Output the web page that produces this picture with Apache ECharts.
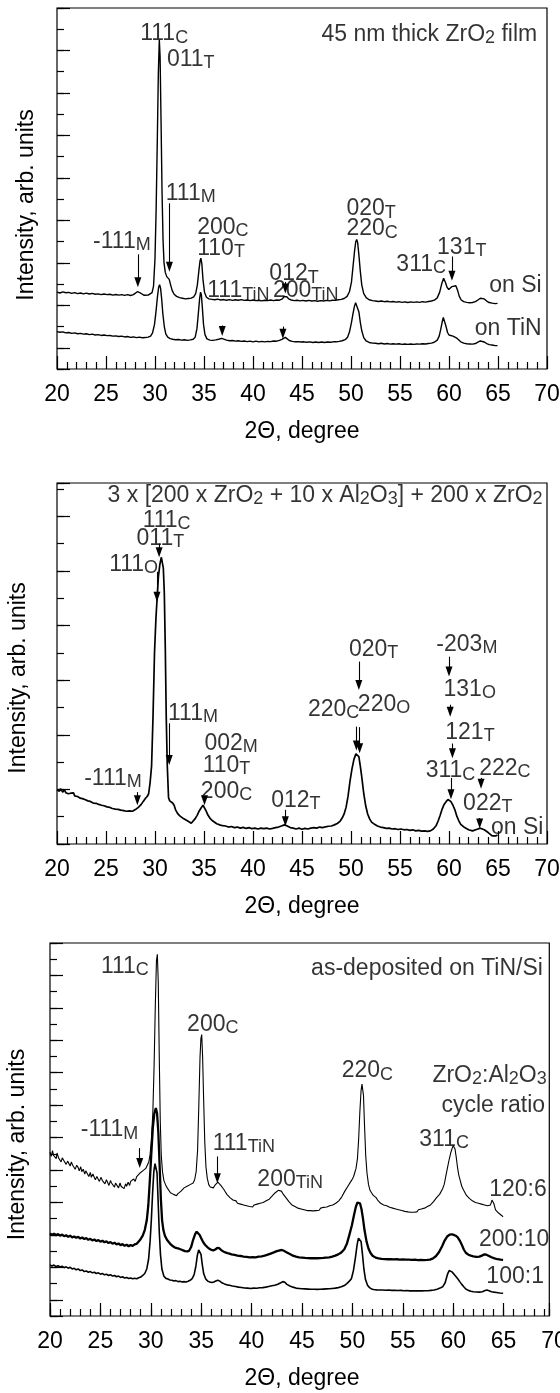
<!DOCTYPE html>
<html>

<head>
    <meta charset="utf-8">
    <title>ZrO2 XRD</title>
    <script src="https://cdn.jsdelivr.net/npm/echarts@6.0.0/dist/echarts.min.js"></script>
    <style>
        body { margin: 0; background: #fff; }
    </style>
</head>

<body>
    <div id="main" style="width: 560px;height:1393px;"></div>
    <script type="text/javascript">
        // ---- data: [2theta (deg), intensity (arb. tick units)] ----

        // panel 1: 45 nm ZrO2, on Si and on TiN
        var p1OnSi = [
            [20.0,3.62],[20.3,3.58],[20.6,3.63],[20.9,3.59],[21.2,3.61],[21.5,3.56],[21.8,3.6],[22.1,3.55],[22.4,3.58],[22.7,3.54],
            [23.0,3.57],[23.3,3.53],[23.6,3.56],[23.9,3.52],[24.2,3.54],[24.5,3.5],[24.8,3.53],[25.1,3.5],[25.4,3.52],[25.7,3.48],
            [26.0,3.51],[26.3,3.48],[26.6,3.5],[26.9,3.47],[27.2,3.5],[27.5,3.46],[27.8,3.5],[28.0,3.55],[28.2,3.64],[28.35,3.66],
            [28.5,3.58],[28.7,3.5],[28.9,3.47],[29.1,3.46],[29.3,3.48],[29.5,3.52],[29.7,3.6],[29.85,3.9],[30.0,5.2],[30.12,7.6],
            [30.24,10.9],[30.34,13.9],[30.44,15.5],[30.52,14.7],[30.62,11.6],[30.72,8.3],[30.82,6.1],[30.92,5.0],[31.05,4.55],[31.2,4.35],
            [31.35,4.3],[31.45,4.22],[31.6,3.95],[31.75,3.7],[31.95,3.52],[32.2,3.42],[32.5,3.36],[32.8,3.33],[33.1,3.3],[33.4,3.32],
            [33.7,3.34],[33.95,3.4],[34.15,3.55],[34.32,3.95],[34.47,4.6],[34.6,5.1],[34.68,5.22],[34.78,4.95],[34.9,4.2],[35.05,3.62],
            [35.25,3.38],[35.5,3.3],[35.8,3.28],[36.1,3.26],[36.4,3.29],[36.7,3.25],[37.0,3.27],[37.3,3.24],[37.6,3.27],[37.9,3.23],
            [38.2,3.26],[38.5,3.24],[38.8,3.27],[39.1,3.23],[39.4,3.25],[39.7,3.22],[40.0,3.25],[40.3,3.22],[40.6,3.24],[40.9,3.21],
            [41.2,3.24],[41.5,3.22],[41.8,3.25],[42.1,3.22],[42.4,3.25],[42.7,3.24],[43.0,3.3],[43.15,3.4],[43.3,3.48],[43.45,3.4],
            [43.65,3.3],[43.9,3.25],[44.2,3.22],[44.5,3.24],[44.8,3.21],[45.1,3.23],[45.4,3.2],[45.7,3.23],[46.0,3.2],[46.3,3.22],
            [46.6,3.19],[46.9,3.22],[47.2,3.2],[47.5,3.23],[47.8,3.21],[48.1,3.24],[48.4,3.23],[48.7,3.26],[49.0,3.28],[49.3,3.32],
            [49.6,3.42],[49.85,3.65],[50.05,4.1],[50.2,4.8],[50.35,5.5],[50.48,5.98],[50.58,6.1],[50.68,5.95],[50.8,5.4],[50.95,4.6],
            [51.1,3.95],[51.3,3.55],[51.55,3.36],[51.85,3.26],[52.2,3.22],[52.5,3.2],[52.8,3.18],[53.1,3.2],[53.4,3.17],[53.7,3.19],
            [54.0,3.16],[54.3,3.18],[54.6,3.15],[54.9,3.17],[55.2,3.14],[55.5,3.16],[55.8,3.13],[56.1,3.16],[56.4,3.14],[56.7,3.16],
            [57.0,3.14],[57.3,3.17],[57.6,3.15],[57.9,3.18],[58.2,3.2],[58.5,3.24],[58.8,3.35],[59.05,3.62],[59.25,4.0],[59.45,4.27],
            [59.62,4.1],[59.8,3.85],[59.98,3.74],[60.12,3.76],[60.3,3.88],[60.5,3.96],[60.7,3.92],[60.88,3.7],[61.05,3.42],[61.25,3.25],
            [61.5,3.17],[61.8,3.14],[62.1,3.12],[62.4,3.13],[62.7,3.17],[62.95,3.25],[63.2,3.33],[63.4,3.36],[63.6,3.3],[63.85,3.2],
            [64.1,3.13],[64.4,3.1],[64.7,3.08],[64.95,3.09]
        ];
        var p1OnTiN = [
            [20.0,1.76],[20.3,1.73],[20.6,1.75],[20.9,1.7],[21.2,1.72],[21.5,1.68],[21.8,1.7],[22.1,1.66],[22.4,1.68],[22.7,1.64],
            [23.0,1.66],[23.3,1.62],[23.6,1.64],[23.9,1.6],[24.2,1.62],[24.5,1.58],[24.8,1.6],[25.1,1.57],[25.4,1.58],[25.7,1.55],
            [26.0,1.56],[26.3,1.53],[26.6,1.55],[26.9,1.51],[27.2,1.53],[27.5,1.49],[27.8,1.51],[28.1,1.48],[28.4,1.5],[28.7,1.47],
            [29.0,1.48],[29.3,1.5],[29.55,1.55],[29.75,1.7],[29.95,2.1],[30.1,2.7],[30.25,3.4],[30.37,3.85],[30.47,3.97],[30.57,3.8],
            [30.68,3.3],[30.8,2.6],[30.95,2.0],[31.1,1.65],[31.3,1.5],[31.55,1.43],[31.8,1.4],[32.1,1.38],[32.4,1.39],[32.7,1.36],
            [33.0,1.38],[33.3,1.35],[33.6,1.37],[33.9,1.4],[34.1,1.5],[34.28,1.9],[34.42,2.6],[34.55,3.3],[34.65,3.62],[34.73,3.5],
            [34.83,2.9],[34.95,2.1],[35.1,1.62],[35.3,1.42],[35.6,1.36],[35.9,1.35],[36.2,1.37],[36.5,1.4],[36.8,1.44],[37.0,1.42],
            [37.3,1.36],[37.6,1.33],[37.9,1.34],[38.2,1.31],[38.5,1.33],[38.8,1.3],[39.1,1.32],[39.4,1.29],[39.7,1.31],[40.0,1.28],
            [40.3,1.31],[40.6,1.28],[40.9,1.3],[41.2,1.28],[41.5,1.3],[41.8,1.29],[42.1,1.32],[42.4,1.31],[42.7,1.35],[42.95,1.4],
            [43.15,1.46],[43.3,1.49],[43.45,1.42],[43.7,1.34],[44.0,1.3],[44.3,1.28],[44.6,1.29],[44.9,1.27],[45.2,1.28],[45.5,1.26],
            [45.8,1.28],[46.1,1.25],[46.4,1.27],[46.7,1.25],[47.0,1.27],[47.3,1.25],[47.6,1.27],[47.9,1.26],[48.2,1.28],[48.5,1.28],
            [48.8,1.3],[49.1,1.33],[49.4,1.38],[49.65,1.5],[49.85,1.75],[50.05,2.2],[50.2,2.6],[50.35,2.95],[50.47,3.12],[50.57,3.17],
            [50.67,3.05],[50.8,2.7],[50.95,2.2],[51.1,1.8],[51.3,1.48],[51.55,1.32],[51.85,1.25],[52.2,1.22],[52.5,1.21],[52.8,1.19],
            [53.1,1.21],[53.4,1.18],[53.7,1.2],[54.0,1.17],[54.3,1.19],[54.6,1.17],[54.9,1.19],[55.2,1.16],[55.5,1.18],[55.8,1.16],
            [56.1,1.18],[56.4,1.16],[56.7,1.18],[57.0,1.17],[57.3,1.19],[57.6,1.18],[57.9,1.2],[58.2,1.22],[58.5,1.26],[58.8,1.36],
            [59.0,1.55],[59.15,1.85],[59.3,2.2],[59.42,2.43],[59.55,2.35],[59.7,2.0],[59.85,1.72],[60.0,1.6],[60.2,1.56],[60.4,1.55],
            [60.6,1.52],[60.8,1.45],[61.0,1.36],[61.2,1.28],[61.5,1.22],[61.8,1.19],[62.1,1.18],[62.4,1.17],[62.7,1.2],[62.95,1.26],
            [63.2,1.32],[63.4,1.33],[63.6,1.27],[63.85,1.2],[64.1,1.15],[64.4,1.13],[64.7,1.1],[64.95,1.1]
        ];

        // panel 2: 3 x [200 x ZrO2 + 10 x Al2O3] + 200 x ZrO2 on Si
        var p2OnSi = [
            [20.0,1.98],[20.1,2.05],[20.25,1.93],[20.35,2.02],[20.5,1.96],[20.6,1.9],[20.75,1.99],[20.9,1.88],[21.0,1.95],[21.15,1.84],
            [21.3,1.9],[21.4,1.86],[21.55,1.8],[21.7,1.87],[21.8,1.76],[21.95,1.8],[22.1,1.74],[22.2,1.78],[22.35,1.68],[22.5,1.73],
            [22.6,1.66],[22.75,1.69],[22.9,1.62],[23.0,1.67],[23.15,1.58],[23.3,1.63],[23.4,1.56],[23.55,1.6],[23.7,1.5],[23.85,1.56],
            [24.0,1.49],[24.1,1.53],[24.25,1.45],[24.4,1.5],[24.55,1.42],[24.7,1.46],[24.8,1.4],[24.95,1.44],[25.1,1.36],[25.25,1.41],
            [25.4,1.34],[25.5,1.38],[25.65,1.3],[25.8,1.35],[25.95,1.28],[26.1,1.32],[26.25,1.27],[26.4,1.3],[26.5,1.24],[26.65,1.29],
            [26.8,1.22],[26.95,1.27],[27.1,1.2],[27.25,1.26],[27.4,1.21],[27.55,1.25],[27.7,1.2],[27.85,1.27],[28.0,1.26],[28.15,1.33],
            [28.3,1.34],[28.45,1.4],[28.6,1.45],[28.8,1.56],[29.0,1.66],[29.2,1.74],[29.35,1.84],[29.5,2.25],[29.65,2.85],
            [29.8,4.7],[29.95,7.0],[30.1,8.3],[30.2,8.9],[30.35,9.8],[30.5,10.25],[30.65,10.5],[30.75,10.52],[30.85,10.1],[30.95,9.2],
            [31.05,7.2],[31.15,4.6],[31.25,2.9],[31.38,1.7],[31.5,1.58],[31.65,1.55],[31.8,1.5],[31.95,1.42],[32.1,1.25],[32.3,1.12],
            [32.5,1.04],[32.7,0.99],[32.9,0.93],[33.1,0.9],[33.3,0.85],[33.5,0.8],[33.7,0.76],[33.9,0.82],[34.1,0.93],[34.3,1.05],
            [34.5,1.2],[34.7,1.32],[34.9,1.42],[35.05,1.4],[35.2,1.22],[35.4,1.06],[35.6,0.95],[35.8,0.87],[36.0,0.8],[36.3,0.74],
            [36.6,0.7],[36.9,0.67],[37.2,0.66],[37.5,0.62],[37.8,0.64],[38.1,0.6],[38.4,0.62],[38.7,0.58],[39.0,0.61],[39.3,0.57],
            [39.6,0.6],[39.9,0.56],[40.2,0.58],[40.5,0.55],[40.8,0.58],[41.1,0.56],[41.4,0.58],[41.7,0.55],[42.0,0.57],[42.3,0.6],
            [42.6,0.62],[42.9,0.66],[43.2,0.7],[43.5,0.66],[43.8,0.6],[44.1,0.58],[44.4,0.55],[44.7,0.58],[45.0,0.54],[45.3,0.57],
            [45.6,0.55],[45.9,0.58],[46.2,0.6],[46.5,0.58],[46.8,0.62],[47.1,0.6],[47.4,0.63],[47.7,0.65],[48.0,0.66],[48.3,0.7],
            [48.6,0.75],[48.9,0.84],[49.1,0.95],[49.3,1.1],[49.5,1.35],[49.7,1.75],[49.9,2.3],[50.1,2.75],[50.3,3.1],[50.5,3.3],
            [50.65,3.32],[50.8,3.2],[50.95,2.85],[51.1,2.45],[51.3,1.85],[51.5,1.4],[51.7,1.1],[51.9,0.92],[52.1,0.8],[52.4,0.72],
            [52.7,0.66],[53.0,0.62],[53.3,0.6],[53.6,0.57],[53.9,0.58],[54.2,0.55],[54.5,0.56],[54.8,0.53],[55.1,0.55],[55.4,0.52],
            [55.7,0.53],[56.0,0.5],[56.3,0.52],[56.6,0.48],[56.9,0.5],[57.2,0.47],[57.5,0.48],[57.8,0.46],[58.1,0.48],[58.4,0.55],
            [58.7,0.68],[58.9,0.85],[59.1,1.05],[59.3,1.28],[59.5,1.45],[59.7,1.55],[59.9,1.63],[60.05,1.62],[60.2,1.55],[60.4,1.42],
            [60.6,1.25],[60.8,1.02],[61.0,0.85],[61.2,0.72],[61.4,0.65],[61.6,0.6],[61.8,0.55],[62.0,0.52],[62.2,0.5],[62.4,0.48],
            [62.6,0.5],[62.8,0.53],[63.0,0.56],[63.2,0.58],[63.4,0.55],[63.6,0.52],[63.8,0.48],[64.0,0.42],[64.2,0.36],[64.4,0.3],
            [64.6,0.28],[64.8,0.3],[64.95,0.33]
        ];

        // panel 3: as-deposited on TiN/Si, ZrO2:Al2O3 cycle ratios
        var p3Ratio120 = [
            [20.0,10.1],[20.12,9.85],[20.25,10.2],[20.35,9.9],[20.5,9.95],[20.62,9.7],[20.7,10.05],[20.85,9.75],[21.0,9.8],[21.1,9.5],
            [21.22,9.75],[21.35,9.6],[21.5,9.72],[21.6,9.35],[21.75,9.55],[21.85,9.5],[22.0,9.25],[22.12,9.5],[22.25,9.3],[22.4,9.35],
            [22.5,9.05],[22.65,9.3],[22.8,9.15],[22.9,8.95],[23.05,9.2],[23.15,8.9],[23.3,9.05],[23.45,8.75],[23.55,8.95],[23.7,8.9],
            [23.85,8.6],[24.0,8.85],[24.1,8.55],[24.25,8.75],[24.4,8.7],[24.5,8.4],[24.65,8.6],[24.8,8.5],[24.9,8.3],[25.05,8.55],
            [25.2,8.35],[25.3,8.45],[25.45,8.15],[25.6,8.4],[25.72,8.3],[25.85,8.05],[26.0,8.35],[26.1,8.2],[26.25,8.25],[26.4,7.95],
            [26.5,8.2],[26.65,8.1],[26.8,7.9],[26.95,8.2],[27.05,8.0],[27.2,8.1],[27.35,7.85],[27.5,8.15],[27.6,8.0],[27.75,8.25],
            [27.9,8.05],[28.0,8.3],[28.15,8.2],[28.3,8.45],[28.45,8.3],[28.6,8.6],[28.75,8.5],[28.9,8.8],[29.05,8.7],[29.2,8.95],
            [29.35,8.85],[29.5,9.1],[29.65,9.05],[29.8,9.5],[29.92,9.9],[30.05,10.8],[30.2,12.5],[30.33,15.5],
            [30.45,19.2],[30.56,21.9],[30.65,22.3],[30.74,20.6],[30.84,16.0],[30.94,12.0],[31.04,9.9],[31.16,8.9],[31.3,8.35],[31.46,8.1],
            [31.63,7.9],[31.8,7.8],[31.95,7.6],[32.1,7.7],[32.25,7.5],[32.4,7.6],[32.55,7.42],[32.7,7.55],[32.85,7.45],[33.0,7.7],
            [33.15,7.6],[33.3,7.9],[33.45,7.8],[33.6,8.0],[33.75,7.95],[33.9,8.1],[34.05,8.05],[34.2,8.2],[34.35,8.4],[34.5,8.9],
            [34.64,10.2],[34.76,12.9],[34.88,15.9],[34.97,17.1],[35.05,17.35],[35.14,16.0],[35.24,13.4],[35.35,10.8],[35.47,9.2],[35.6,8.5],
            [35.75,8.1],[35.9,7.95],[36.05,8.05],[36.2,7.9],[36.35,8.05],[36.5,8.1],[36.65,8.25],[36.8,8.2],[36.95,8.05],[37.1,7.95],
            [37.25,7.8],[37.4,7.65],[37.55,7.5],[37.7,7.4],[37.85,7.3],[38.0,7.2],[38.15,7.15],[38.3,7.05],[38.45,7.1],[38.6,6.95],
            [38.75,7.05],[38.9,6.9],[39.05,7.0],[39.2,6.85],[39.35,6.95],[39.5,6.8],[39.65,6.9],[39.8,6.75],[39.95,6.85],[40.1,6.72],
            [40.25,6.85],[40.4,6.75],[40.55,6.9],[40.7,6.8],[40.85,6.95],[41.0,6.85],[41.15,7.0],[41.3,6.95],[41.45,7.1],[41.6,7.05],
            [41.75,7.2],[41.9,7.25],[42.05,7.4],[42.2,7.45],[42.35,7.6],[42.5,7.65],[42.65,7.75],[42.8,7.82],[42.95,7.7],[43.1,7.55],
            [43.25,7.45],[43.4,7.3],[43.55,7.25],[43.7,7.05],[43.85,7.0],[44.0,6.85],[44.15,6.85],[44.3,6.75],[44.45,6.8],[44.6,6.65],
            [44.75,6.75],[44.9,6.6],[45.05,6.7],[45.2,6.55],[45.35,6.65],[45.5,6.5],[45.65,6.62],[45.8,6.5],[45.95,6.6],[46.1,6.48],
            [46.25,6.6],[46.4,6.5],[46.55,6.62],[46.7,6.52],[46.85,6.65],[47.0,6.55],[47.15,6.7],[47.3,6.6],[47.45,6.72],[47.6,6.65],
            [47.75,6.8],[47.9,6.72],[48.05,6.85],[48.2,6.8],[48.35,6.95],[48.5,6.9],[48.65,7.1],[48.8,7.1],[48.95,7.35],[49.1,7.45],
            [49.25,7.7],[49.4,7.75],[49.55,8.0],[49.7,8.1],[49.85,8.3],[50.0,8.45],[50.12,8.6],[50.24,8.85],[50.36,9.1],[50.5,9.7],
            [50.62,10.9],[50.74,12.6],[50.86,13.9],[50.95,14.3],[51.02,14.36],[51.1,13.6],[51.2,11.8],[51.32,9.9],[51.45,8.8],[51.6,8.1],
            [51.75,7.75],[51.9,7.6],[52.05,7.45],[52.2,7.35],[52.35,7.3],[52.5,7.15],[52.65,7.1],[52.8,6.95],[52.95,7.0],[53.1,6.85],
            [53.25,6.9],[53.4,6.8],[53.55,6.85],[53.7,6.7],[53.85,6.78],[54.0,6.65],[54.15,6.72],[54.3,6.6],[54.45,6.7],[54.6,6.55],
            [54.75,6.62],[54.9,6.5],[55.05,6.6],[55.2,6.45],[55.35,6.55],[55.5,6.42],[55.65,6.5],[55.8,6.4],[55.95,6.48],[56.1,6.4],
            [56.25,6.5],[56.4,6.42],[56.55,6.55],[56.7,6.45],[56.85,6.6],[57.0,6.52],[57.15,6.65],[57.3,6.6],[57.45,6.75],[57.6,6.7],
            [57.75,6.85],[57.9,6.9],[58.05,7.05],[58.2,7.1],[58.35,7.3],[58.5,7.35],[58.65,7.5],[58.8,7.6],[58.95,7.85],[59.1,8.1],
            [59.2,8.4],[59.32,8.8],[59.45,9.2],[59.6,9.65],[59.75,10.05],[59.9,10.35],[60.0,10.5],[60.08,10.56],[60.18,10.3],[60.3,9.8],
            [60.42,9.2],[60.55,8.7],[60.7,8.35],[60.85,8.0],[61.0,7.8],[61.15,7.7],[61.3,7.45],[61.45,7.5],[61.6,7.25],[61.75,7.3],
            [61.9,7.1],[62.05,7.2],[62.2,7.0],[62.35,7.1],[62.5,6.95],[62.65,7.05],[62.8,6.9],[62.95,7.0],[63.1,6.85],[63.25,6.95],
            [63.4,6.8],[63.55,6.9],[63.7,6.85],[63.85,7.15],[63.95,7.25],[64.05,6.9],[64.2,6.55],[64.35,6.45],[64.5,6.35],[64.65,6.25],
            [64.8,6.2],[64.95,6.12]
        ];
        var p3Ratio200 = [
            [20.0,5.1],[20.2,5.0],[20.4,5.08],[20.6,4.98],[20.8,5.05],[21.0,4.95],[21.2,5.02],[21.4,4.92],[21.6,4.98],[21.8,4.88],
            [22.0,4.95],[22.2,4.85],[22.4,4.9],[22.6,4.82],[22.8,4.88],[23.0,4.78],[23.2,4.84],[23.4,4.75],[23.6,4.8],[23.8,4.7],
            [24.0,4.76],[24.2,4.66],[24.4,4.72],[24.6,4.62],[24.8,4.68],[25.0,4.58],[25.2,4.64],[25.4,4.55],[25.6,4.6],[25.8,4.5],
            [26.0,4.56],[26.2,4.46],[26.4,4.52],[26.6,4.42],[26.8,4.47],[27.0,4.37],[27.2,4.43],[27.4,4.33],[27.6,4.4],[27.8,4.3],
            [28.0,4.38],[28.2,4.32],[28.4,4.42],[28.6,4.45],[28.8,4.6],[29.0,4.75],[29.2,4.95],[29.4,5.3],[29.6,5.9],[29.75,6.8],
            [29.9,8.3],[30.05,10.0],[30.2,11.6],[30.35,12.5],[30.5,12.82],[30.62,12.5],[30.75,11.3],[30.88,9.2],[31.0,7.2],[31.12,5.9],
            [31.25,5.3],[31.4,4.95],[31.6,4.7],[31.8,4.55],[32.0,4.4],[32.2,4.3],[32.4,4.22],[32.6,4.18],[32.8,4.15],[33.0,4.1],
            [33.2,4.05],[33.4,4.0],[33.6,3.98],[33.8,4.02],[34.0,4.25],[34.2,4.7],[34.4,5.05],[34.55,5.2],[34.7,5.15],[34.85,5.0],
            [35.0,4.8],[35.2,4.55],[35.4,4.38],[35.6,4.25],[35.8,4.15],[36.0,4.08],[36.2,4.05],[36.4,4.1],[36.6,4.2],[36.8,4.18],
            [37.0,4.05],[37.2,3.98],[37.4,3.92],[37.6,3.88],[37.8,3.85],[38.0,3.8],[38.3,3.77],[38.6,3.72],[38.9,3.7],[39.2,3.66],
            [39.5,3.64],[39.8,3.62],[40.1,3.63],[40.4,3.62],[40.7,3.66],[41.0,3.68],[41.3,3.72],[41.6,3.78],[41.9,3.85],[42.2,3.92],
            [42.5,4.0],[42.8,4.05],[43.0,4.07],[43.2,4.02],[43.5,3.92],[43.8,3.82],[44.1,3.72],[44.4,3.66],[44.7,3.62],[45.0,3.6],
            [45.3,3.58],[45.6,3.57],[45.9,3.56],[46.2,3.56],[46.5,3.56],[46.8,3.57],[47.1,3.58],[47.4,3.6],[47.7,3.62],[48.0,3.66],
            [48.3,3.72],[48.6,3.8],[48.9,3.92],[49.2,4.12],[49.45,4.45],[49.7,5.0],[49.95,5.6],[50.15,6.2],[50.35,6.75],[50.5,7.0],
            [50.62,7.06],[50.75,6.95],[50.9,6.6],[51.05,6.0],[51.2,5.3],[51.4,4.6],[51.6,4.15],[51.8,3.88],[52.0,3.72],[52.3,3.6],
            [52.6,3.55],[52.9,3.52],[53.2,3.51],[53.5,3.5],[53.8,3.5],[54.1,3.49],[54.4,3.5],[54.7,3.48],[55.0,3.49],[55.3,3.47],
            [55.6,3.48],[55.9,3.46],[56.2,3.47],[56.5,3.45],[56.8,3.46],[57.1,3.45],[57.4,3.46],[57.7,3.48],[58.0,3.55],[58.3,3.7],
            [58.6,3.95],[58.9,4.3],[59.15,4.65],[59.4,4.9],[59.65,5.02],[59.85,5.04],[60.05,5.0],[60.25,4.95],[60.45,4.85],[60.65,4.65],
            [60.85,4.4],[61.05,4.1],[61.25,3.9],[61.5,3.78],[61.75,3.72],[62.0,3.68],[62.3,3.65],[62.6,3.66],[62.9,3.74],[63.1,3.8],
            [63.3,3.78],[63.55,3.7],[63.8,3.62],[64.1,3.55],[64.4,3.5],[64.7,3.47],[64.95,3.46]
        ];
        var p3Ratio100 = [
            [20.0,3.15],[20.2,3.08],[20.4,3.14],[20.6,3.05],[20.8,3.1],[21.0,3.02],[21.2,3.07],[21.4,2.98],[21.6,3.03],[21.8,2.95],
            [22.0,3.0],[22.2,2.9],[22.4,2.94],[22.6,2.85],[22.8,2.9],[23.0,2.8],[23.2,2.84],[23.4,2.74],[23.6,2.78],[23.8,2.7],
            [24.0,2.74],[24.2,2.66],[24.4,2.7],[24.6,2.62],[24.8,2.66],[25.0,2.58],[25.2,2.62],[25.4,2.54],[25.6,2.58],[25.8,2.5],
            [26.0,2.55],[26.2,2.46],[26.4,2.5],[26.6,2.42],[26.8,2.46],[27.0,2.38],[27.2,2.42],[27.4,2.34],[27.6,2.38],[27.8,2.31],
            [28.0,2.35],[28.2,2.3],[28.4,2.33],[28.6,2.3],[28.8,2.36],[29.0,2.4],[29.2,2.5],[29.4,2.62],[29.6,2.9],[29.78,3.5],
            [29.93,4.6],[30.06,6.0],[30.18,7.6],[30.3,8.9],[30.42,9.4],[30.52,9.45],[30.62,8.8],[30.72,7.2],[30.84,5.2],[30.96,3.8],
            [31.1,2.9],[31.3,2.45],[31.5,2.32],[31.7,2.28],[31.9,2.22],[32.1,2.2],[32.3,2.16],[32.5,2.18],[32.7,2.12],[32.9,2.14],
            [33.1,2.1],[33.3,2.12],[33.5,2.1],[33.7,2.14],[33.9,2.2],[34.1,2.3],[34.3,2.55],[34.48,3.1],[34.62,3.75],[34.75,4.08],
            [34.87,4.12],[34.98,3.8],[35.1,3.2],[35.25,2.6],[35.45,2.28],[35.65,2.15],[35.85,2.1],[36.05,2.06],[36.25,2.1],[36.45,2.16],
            [36.65,2.2],[36.85,2.15],[37.05,2.05],[37.3,1.98],[37.55,1.92],[37.8,1.9],[38.1,1.85],[38.4,1.82],[38.7,1.78],[39.0,1.76],
            [39.3,1.73],[39.6,1.72],[39.9,1.7],[40.2,1.72],[40.5,1.71],[40.8,1.74],[41.1,1.75],[41.4,1.78],[41.7,1.82],[42.0,1.86],
            [42.3,1.9],[42.6,1.96],[42.9,2.05],[43.1,2.12],[43.3,2.08],[43.5,1.95],[43.8,1.85],[44.1,1.78],[44.4,1.72],[44.7,1.7],
            [45.0,1.68],[45.3,1.67],[45.6,1.66],[45.9,1.65],[46.2,1.65],[46.5,1.64],[46.8,1.65],[47.1,1.66],[47.4,1.67],[47.7,1.68],
            [48.0,1.7],[48.3,1.72],[48.6,1.75],[48.9,1.8],[49.2,1.88],[49.45,2.0],[49.7,2.15],[49.9,2.3],[50.1,2.8],[50.3,3.6],
            [50.47,4.4],[50.6,4.8],[50.74,4.9],[50.86,4.6],[51.0,3.8],[51.14,2.9],[51.3,2.25],[51.5,1.9],[51.7,1.75],[51.9,1.67],
            [52.1,1.63],[52.4,1.61],[52.7,1.6],[53.0,1.6],[53.3,1.59],[53.6,1.6],[53.9,1.58],[54.2,1.59],[54.5,1.57],[54.8,1.58],
            [55.1,1.56],[55.4,1.57],[55.7,1.55],[56.0,1.56],[56.3,1.55],[56.6,1.56],[56.9,1.55],[57.2,1.56],[57.5,1.56],[57.8,1.58],
            [58.1,1.6],[58.4,1.65],[58.7,1.72],[58.95,1.8],[59.2,2.05],[59.45,2.6],[59.6,2.8],[59.72,2.84],[59.88,2.72],[60.05,2.6],
            [60.25,2.45],[60.45,2.3],[60.65,2.12],[60.85,1.95],[61.05,1.8],[61.25,1.66],[61.5,1.58],[61.75,1.53],[62.0,1.5],[62.3,1.48],
            [62.6,1.47],[62.9,1.5],[63.1,1.55],[63.35,1.6],[63.55,1.56],[63.8,1.5],[64.05,1.47],[64.3,1.45],[64.6,1.42],[64.95,1.4]
        ];

        // annotations: [text (~sub~), 2theta, intensity, 'r' = right aligned]
        var p1Labels = [
            ['45 nm thick ZrO~2~ film', 69.0, 15.74, 'r'],
            ['111~C~', 28.49, 15.77], ['011~T~', 31.22, 14.58], ['111~M~', 31.1, 8.24],
            ['200~C~', 34.31, 6.66], ['110~T~', 34.31, 5.65], ['-111~M~', 23.68, 5.99],
            ['012~T~', 41.67, 4.47], ['020~T~', 49.53, 7.53], ['220~C~', 49.53, 6.59],
            ['311~C~', 54.63, 4.9], ['131~T~', 58.78, 5.72],
            ['on Si', 69.45, 3.92, 'r'], ['on TiN', 69.45, 1.88, 'r'],
            ['111~TiN~', 35.33, 3.67], ['200~TiN~', 42.03, 3.67]
        ];
        var p2Labels = [
            ['3 x [200 x ZrO~2~ + 10 x Al~2~O~3~] + 200 x ZrO~2~', 69.55, 12.76, 'r'],
            ['111~C~', 28.74, 11.84], ['011~T~', 28.12, 11.17], ['111~O~', 25.32, 10.23],
            ['111~M~', 31.33, 4.76], ['002~M~', 35.04, 3.67], ['110~T~', 34.86, 2.88],
            ['200~C~', 34.68, 1.92], ['-111~M~', 22.77, 2.38], ['012~T~', 41.85, 1.58],
            ['020~T~', 49.79, 7.12], ['220~C~', 45.6, 4.92], ['220~O~', 50.7, 5.12],
            ['-203~M~', 58.71, 7.31], ['131~O~', 59.44, 5.64], ['121~T~', 59.62, 4.07],
            ['311~C~', 57.62, 2.67], ['222~C~', 63.08, 2.75], ['022~T~', 61.44, 1.49],
            ['on Si', 69.64, 0.61, 'r']
        ];
        var p3Labels = [
            ['as-deposited on TiN/Si', 68.9, 21.4, 'r'],
            ['111~C~', 25.05, 21.52], ['200~C~', 33.6, 17.95], ['220~C~', 48.94, 15.1],
            ['ZrO~2~:Al~2~O~3~', 69.28, 14.8, 'r'], ['cycle ratio', 69.11, 13.0, 'r'],
            ['-111~M~', 23.05, 11.46], ['311~C~', 56.64, 10.86],
            ['111~TiN~', 36.14, 10.62], ['200~TiN~', 40.57, 8.4],
            ['120:6', 69.28, 7.78, 'r'], ['200:10', 69.54, 4.69, 'r'], ['100:1', 69.0, 2.43, 'r']
        ];

        // arrows: [2theta, from intensity, tip intensity]
        var p1Arrows = [[28.25, 5.4, 3.85], [31.47, 7.8, 4.58], [43.3, 4.1, 3.56], [60.3, 5.3, 4.15],
            [36.86, 2.05, 1.55], [43.05, 2.0, 1.42]];
        var p2Arrows = [[30.42, 11.0, 10.5], [30.2, 9.97, 8.87], [31.45, 4.42, 2.89], [35.05, 1.75, 1.42],
            [28.2, 1.9, 1.42], [43.3, 1.25, 0.65], [50.8, 6.68, 5.64], [50.55, 4.3, 3.42], [50.88, 4.28, 3.32],
            [60.0, 6.86, 6.13], [60.12, 5.1, 4.66], [60.35, 3.68, 3.14], [60.2, 2.42, 1.64],
            [63.27, 2.42, 2.02], [63.13, 0.95, 0.57]];
        var p3Arrows = [[28.9, 10.35, 9.12], [36.6, 9.84, 8.19]];

        var xMin = 20, xMax = 70, xStep = 5;

        // ---- chart ----
        var FONT = "'Liberation Sans', Arial, Helvetica, sans-serif";
        var myChart = echarts.init(document.getElementById('main'));

        var panels = [
            { left: 57, top: 8, width: 490, height: 361, ymax: 17, longOdd: true, nameGap: 19, namePad: 33,
              traces: [[p1OnSi, 1.4], [p1OnTiN, 1.4]], labels: p1Labels, arrows: p1Arrows },
            { left: 57, top: 483, width: 490, height: 361, ymax: 13.22, longOdd: false, nameGap: 27, namePad: 29,
              traces: [[p2OnSi, 1.7]], labels: p2Labels, arrows: p2Arrows },
            { left: 50, top: 943, width: 504, height: 373, ymax: 23, longOdd: true, nameGap: 21, namePad: 30,
              frameWidth: 499.3, frameMax: 69.53,
              traces: [[p3Ratio120, 1.1], [p3Ratio200, 2.3], [p3Ratio100, 1.6]], labels: p3Labels, arrows: p3Arrows }
        ];

        function rich(t) {
            return t.split('~').map(function (s, i) {
                return s ? '{' + (i % 2 ? 's' : 'a') + '|' + s + '}' : '';
            }).join('');
        }

        var textStyle = { fontFamily: FONT, fontSize: 23, color: '#000' };
        var richStyles = {
            a: { fontFamily: FONT, fontSize: 23, lineHeight: 25, color: '#000' },
            s: { fontFamily: FONT, fontSize: 18, lineHeight: 13, verticalAlign: 'bottom', color: '#000' }
        };
        var tickLine = { color: '#000', width: 1.2 };

        var grids = [], xAxes = [], yAxes = [], series = [];

        panels.forEach(function (P) {
            var framed = !P.frameWidth;
            var gi = grids.length;
            grids.push({ left: P.left, top: P.top, width: P.width, height: P.height, outerBoundsMode: 'none',
                containLabel: false, show: framed, borderColor: '#000', borderWidth: 1.2 });
            var xi = xAxes.length;
            xAxes.push({
                gridIndex: gi, type: 'value', min: xMin, max: xMax, interval: xStep, position: 'bottom',
                axisLine: { show: false, onZero: false }, splitLine: { show: false },
                axisTick: { show: framed, inside: true, length: 13, lineStyle: tickLine },
                minorTick: { show: framed, splitNumber: 5, length: 7, lineStyle: tickLine },
                axisLabel: { fontFamily: FONT, fontSize: 23, color: '#000', margin: 14 },
                name: '2\u0398, degree', nameLocation: 'middle', nameGap: 51, nameTextStyle: textStyle
            });
            var yi = yAxes.length;
            yAxes.push({
                gridIndex: gi, type: 'value', min: 0, max: P.ymax, interval: 1, position: 'left',
                axisLine: { show: false, onZero: false }, splitLine: { show: false }, axisLabel: { show: false },
                axisTick: { inside: true, length: 7, lineStyle: tickLine },
                name: 'Intensity, arb. units', nameLocation: 'middle', nameGap: P.nameGap,
                nameTextStyle: { fontFamily: FONT, fontSize: 23, color: '#000', padding: [0, P.namePad, 0, 0] }
            });
            yAxes.push({
                gridIndex: gi, type: 'value', min: 0, max: P.ymax, interval: 2, inverse: P.longOdd, position: 'left',
                axisLine: { show: false, onZero: false }, splitLine: { show: false }, axisLabel: { show: false },
                axisTick: { inside: true, length: 13, lineStyle: tickLine }
            });

            P.traces.forEach(function (tr) {
                series.push({
                    type: 'line', xAxisIndex: xi, yAxisIndex: yi, data: tr[0],
                    symbol: 'none', showSymbol: false, silent: true, animation: false,
                    lineStyle: { color: '#000', width: tr[1] }
                });
            });

            var pxPerUnit = P.height / P.ymax;
            series.push({
                type: 'scatter', xAxisIndex: xi, yAxisIndex: yi, symbolSize: 0, silent: true, animation: false,
                data: P.labels.map(function (l) {
                    var d = { value: [l[1], l[2]], t: rich(l[0]) };
                    if (l[3] === 'r') d.label = { position: 'left' };
                    return d;
                }),
                label: { show: true, position: 'right', distance: 0, formatter: function (p) { return p.data.t; }, rich: richStyles },
                markLine: {
                    silent: true, animation: false, symbol: ['none', 'triangle'], symbolSize: [0, 9],
                    label: { show: false }, emphasis: { disabled: true },
                    lineStyle: { color: '#000', width: 1.1, type: 'solid' },
                    data: P.arrows.map(function (a) {
                        return [{ coord: [a[0], a[1]] },
                                { coord: [a[0], a[2] + 5 / pxPerUnit], symbolSize: [7, 10] }];
                    })
                }
            });

            if (!framed) {
                // frame and x ticks of the bottom panel stop short of 70
                var fi = grids.length;
                grids.push({ left: P.left, top: P.top, width: P.frameWidth, height: P.height, outerBoundsMode: 'none',
                    containLabel: false, show: true, borderColor: '#000', borderWidth: 1.2 });
                xAxes.push({
                    gridIndex: fi, type: 'value', min: xMin, max: P.frameMax, interval: 1, position: 'bottom',
                    axisLine: { show: false, onZero: false }, splitLine: { show: false }, axisLabel: { show: false },
                    axisTick: { inside: true, length: 7, lineStyle: tickLine }
                });
                xAxes.push({
                    gridIndex: fi, type: 'value', min: xMin, max: P.frameMax, interval: xStep, position: 'bottom',
                    axisLine: { show: false, onZero: false }, splitLine: { show: false }, axisLabel: { show: false },
                    axisTick: { inside: true, length: 13, lineStyle: tickLine }
                });
                yAxes.push({ gridIndex: fi, type: 'value', min: 0, max: 1, show: false });
            }
        });

        var option = {
            backgroundColor: '#fff',
            animation: false,
            grid: grids,
            xAxis: xAxes,
            yAxis: yAxes,
            series: series
        };

        myChart.setOption(option);
    </script>
</body>

</html>
